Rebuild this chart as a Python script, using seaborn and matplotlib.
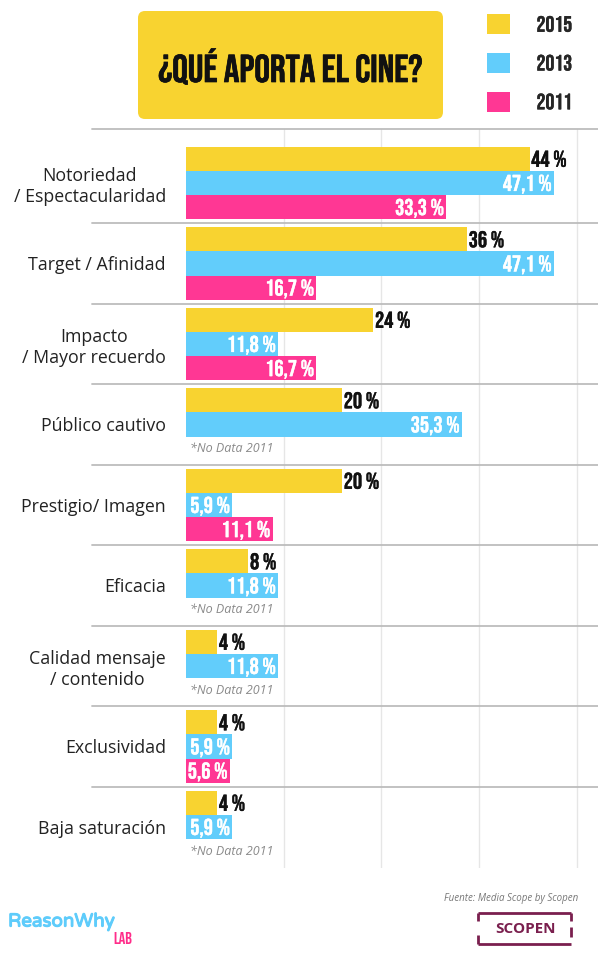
import numpy as np
import pandas as pd
import matplotlib
matplotlib.use('Agg')
import matplotlib.pyplot as plt
import matplotlib.patheffects as pe
import seaborn as sns
from matplotlib.patches import FancyBboxPatch
from matplotlib.transforms import blended_transform_factory

# datos
categorias = ['Notoriedad\n/ Espectacularidad', 'Target / Afinidad', 'Impacto\n/ Mayor recuerdo',
              'Público cautivo', 'Prestigio/ Imagen', 'Eficacia', 'Calidad mensaje\n/ contenido',
              'Exclusividad', 'Baja saturación']
v2015 = [44, 36, 24, 20, 20, 8, 4, 4, 4]
v2013 = [47.1, 47.1, 11.8, 35.3, 5.9, 11.8, 11.8, 5.9, 5.9]
v2011 = [33.3, 16.7, 16.7, np.nan, 11.1, np.nan, np.nan, 5.6, np.nan]
anios = ['2015', '2013', '2011']
colores = ['#F8D330', '#62CDFB', '#FF3794']

df = pd.DataFrame({'categoria': categorias * 3,
                   'valor': v2015 + v2013 + v2011,
                   'anio': np.repeat(anios, len(categorias))})

sns.set_theme(style='white')
plt.rcParams['font.family'] = ['Open Sans', 'DejaVu Sans']
COND = ['Bebas Neue', 'DejaVu Sans']


def negrita(color, w=0.25):
    # engrosa un poco la Bebas
    return [pe.withStroke(linewidth=w, foreground=color)]


fig = plt.figure(figsize=(5.98, 9.58), dpi=100)

# capa de fondo en pixeles para cabecera y pie
bg = fig.add_axes([0, 0, 1, 1], zorder=-1)
bg.set_xlim(0, 598)
bg.set_ylim(958, 0)
bg.axis('off')

ax = fig.add_axes([186 / 598, 90 / 958, 412 / 598, 739 / 958])
sns.barplot(data=df, x='valor', y='categoria', hue='anio', order=categorias, hue_order=anios,
            palette=colores, orient='h', width=0.9, saturation=1, linewidth=0, ax=ax)

n = len(categorias)
ax.set_xlim(0, 412 / 7.81)
ax.set_ylim(n - 0.49, -0.67)
ax.set_xticks([12.5, 25, 37.5, 50])
ax.set_xticklabels([])
ax.grid(axis='x', color='#e6e6e6', lw=1)
ax.set_axisbelow(True)
ax.set_xlabel('')
ax.set_ylabel('')
sns.despine(ax=ax, left=True, bottom=True)
ax.tick_params(axis='x', length=0)
ax.tick_params(axis='y', length=0, pad=14.4, labelsize=12.8, labelcolor='#222222')
for lbl in ax.get_yticklabels():
    lbl.set_multialignment('center')


def fmt(v):
    return f'{v:g}'.replace('.', ',') + ' %'


for i in range(n):
    ax.text(v2015[i] + 0.2, i - 0.3, fmt(v2015[i]), ha='left', va='center_baseline',
            family=COND, size=16.5, color='#111111', path_effects=negrita('#111111'))
    for off, vals in ((0, v2013), (0.3, v2011)):
        v = vals[i]
        if np.isnan(v):
            ax.text(0.5, i + off, '*No Data 2011', ha='left', va='center',
                    style='italic', size=9, color='#8a8a8a')
        else:
            ax.text(v - 0.3, i + off, fmt(v), ha='right', va='center_baseline',
                    family=COND, size=16.5, color='white', path_effects=negrita('white'))

# separadores entre grupos
tr = blended_transform_factory(ax.transAxes, ax.transData)
for y in [-0.67] + [i + 0.5 for i in range(n - 1)]:
    ax.plot([-0.228, 1], [y, y], transform=tr, color='#bdbdbd', lw=1.3, clip_on=False)

# leyenda
sns.move_legend(ax, 'upper left', bbox_to_anchor=(487 / 598, 1 - 14 / 958),
                bbox_transform=fig.transFigure, frameon=False, title=None,
                handlelength=1.03, handleheight=1.03, labelspacing=0.83, handletextpad=1.2,
                borderpad=0, borderaxespad=0,
                prop={'family': COND, 'size': 16})
for t in ax.get_legend().get_texts():
    t.set_path_effects(negrita('#111111'))

# título
bg.add_patch(FancyBboxPatch((138, 11), 305, 108, boxstyle='round,pad=0,rounding_size=7',
                            fc='#F8D330', ec='none'))
bg.text(290.5, 65, '¿QUÉ APORTA EL CINE?', ha='center', va='center_baseline',
        family=COND, size=28, color='#111111', path_effects=negrita('#111111', 0.5))

# pie
bg.text(578, 899, 'Fuente: Media Scope by Scopen', ha='right', va='center',
        style='italic', size=7, color='#777777')
bg.text(8, 922, 'ReasonWhy', ha='left', va='center', family=['Varela Round', 'Open Sans'],
        size=13.5, color='#5ECCFB', path_effects=negrita('#5ECCFB', 0.8))
bg.text(113, 938, 'LAB', ha='left', va='center_baseline', family=COND, size=12, color='#FF2D8A')
bg.text(525, 929, 'SCOPEN', ha='center', va='center', weight='bold', size=11, color='#7A1F4E')
c = '#7A1F4E'
for xs, ys in [((478, 571), (913, 913)), ((478, 571), (944, 944)),
               ((478, 478), (913, 921)), ((478, 478), (935, 944)),
               ((571, 571), (913, 921)), ((571, 571), (927, 937))]:
    bg.plot(xs, ys, color=c, lw=2, solid_capstyle='butt')

fig.savefig('out.png', dpi=100)
